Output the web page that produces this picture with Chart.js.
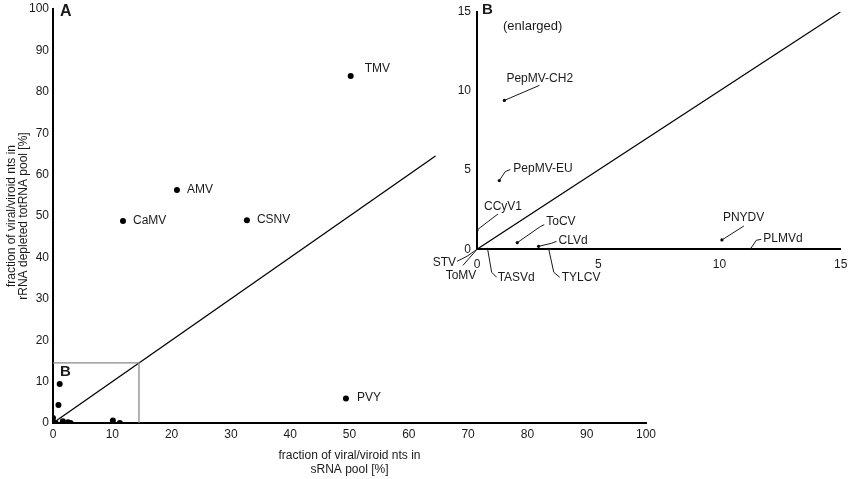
<!DOCTYPE html>
<html>
<head>
<meta charset="utf-8">
<script src="https://cdn.jsdelivr.net/npm/chart.js@4.4.1/dist/chart.umd.min.js"></script>
<style>
  html, body { margin: 0; padding: 0; background: #fff; }
  #wrap { position: relative; width: 851px; height: 479px; }
  #cA { position: absolute; left: 0; top: 0; }
  #cB { position: absolute; left: 430px; top: 0; }
</style>
</head>
<body>
<div id="wrap">
  <canvas id="cA" width="851" height="479"></canvas>
  <canvas id="cB" width="421" height="300"></canvas>
</div>
<script>
// ---------------- DATA ----------------
const virusNames = ['TMV','AMV','CaMV','CSNV','PVY','PepMV-CH2','PepMV-EU','CCyV1','ToCV','CLVd','PNYDV','PLMVd','TYLCV','TASVd','STV','ToMV'];
const srnaPct    = [50.2, 20.9, 11.8, 32.7, 49.4, 1.13, 0.92, 0.0, 1.66, 2.54, 10.1, 11.27, 2.96, 0.44, 0.0, 0.0];
const totrnaPct  = [83.8, 56.3, 48.8, 49.0, 5.9, 9.4, 4.34, 1.22, 0.42, 0.19, 0.59, 0.0, 0.0, 0.0, 0.0, 0.0];

const axisMaxA = 100, tickStepA = 10;
const axisMaxB = 15,  tickStepB = 5;
const diagEndA = 64.5;      // identity line extent in panel A
const zoomBoxMax = 14.5;    // extent of the enlarged region box
const diagEndB = 15;        // identity line extent in panel B

const xTitle = ['fraction of viral/viroid nts in', 'sRNA pool [%]'];
const yTitle = ['fraction of viral/viroid nts in', 'rRNA depleted totRNA pool [%]'];

// ---------------- STYLE ----------------
const FONT = "'Liberation Sans', Arial, sans-serif";
const INK = '#1a1a1a';

const points = virusNames.map((n, i) => ({ x: srnaPct[i], y: totrnaPct[i] }));

// label placement (pixel offsets from each point)
const labelsA = [
  { name: 'TMV',  dx: 14, dy: -7 },
  { name: 'AMV',  dx: 10, dy: 0 },
  { name: 'CaMV', dx: 10, dy: 0 },
  { name: 'CSNV', dx: 10, dy: 0 },
  { name: 'PVY',  dx: 11, dy: -1 }
];
const labelsB = [
  { name: 'PepMV-CH2', dx: 2,  dy: -22, leader: [[0,0],[35,-15]] },
  { name: 'PepMV-EU',  dx: 14, dy: -12, leader: [[0,0],[6,-9],[11,-11]] },
  { name: 'CCyV1',     dx: 7,  dy: -23, leader: [[0,0],[21,-16]] },
  { name: 'ToCV',      dx: 29, dy: -21, leader: [[0,0],[23,-16],[27,-18]] },
  { name: 'CLVd',      dx: 20, dy: -6,  leader: [[0,0],[13,-3],[18,-5]] },
  { name: 'PNYDV',     dx: 1,  dy: -22, leader: [[0,0],[22,-14]] },
  { name: 'PLMVd',     dx: 13, dy: -11, leader: [[0,0],[6,-9],[11,-10]] },
  { name: 'TYLCV',     dx: 13, dy: 28,  leader: [[0,0],[5,23],[11,28]] },
  { name: 'TASVd',     dx: 10, dy: 28,  leader: [[0,0],[4,23],[9,28]] },
  { name: 'STV',       dx: -21, dy: 13, align: 'right', leader: [[0,0],[-10,7],[-20,12]] },
  { name: 'ToMV',      dx: -16, dy: 26, align: 'center', leader: [[0,0],[-14,16]] }
];

function makeLabelPlugin(items, extra) {
  return {
    id: 'customLabels',
    afterDatasetsDraw(chart) {
      const { ctx, scales: { x, y } } = chart;
      ctx.save();
      ctx.fillStyle = INK;
      ctx.strokeStyle = INK;
      ctx.lineWidth = 1;
      ctx.font = '12px ' + FONT;
      ctx.textBaseline = 'middle';
      items.forEach(it => {
        const i = virusNames.indexOf(it.name);
        const px = x.getPixelForValue(srnaPct[i]);
        const py = y.getPixelForValue(totrnaPct[i]);
        if (it.leader) {
          ctx.beginPath();
          it.leader.forEach((p, k) => {
            if (k === 0) ctx.moveTo(px + p[0], py + p[1]);
            else ctx.lineTo(px + p[0], py + p[1]);
          });
          ctx.stroke();
        }
        ctx.textAlign = it.align || 'left';
        ctx.fillText(it.name, px + it.dx, py + it.dy);
      });
      if (extra) extra(chart, ctx, x, y);
      ctx.restore();
    }
  };
}

function axisCfg(max, step, titleLines, isX, fitSize, tickPad, titleFont, titlePad, topPad) {
  return {
    type: 'linear',
    min: 0, max: max,
    ticks: { stepSize: step, color: INK, font: { family: FONT, size: 12 }, padding: tickPad },
    grid: { display: false, drawTicks: false },
    border: { display: true, color: '#000', width: 2 },
    title: titleLines ? { display: true, text: titleLines, color: INK, font: titleFont, padding: titlePad } : { display: false },
    afterFit(scale) {
      if (isX) { scale.height = fitSize; scale.paddingRight = 0; scale.paddingLeft = 0; }
      else { scale.width = fitSize; scale.paddingTop = topPad; scale.paddingBottom = 0; }
    }
  };
}

Chart.defaults.animation = false;

// ---------------- PANEL A ----------------
new Chart(document.getElementById('cA'), {
  type: 'scatter',
  data: {
    datasets: [
      { data: [{x: 0, y: 0}, {x: diagEndA, y: diagEndA}], showLine: true, borderColor: '#000', borderWidth: 1.3, pointRadius: 0, order: 3 },
      { data: [{x: 0, y: zoomBoxMax}, {x: zoomBoxMax, y: zoomBoxMax}, {x: zoomBoxMax, y: 0}], showLine: true, borderColor: '#8a8a8a', borderWidth: 1.3, pointRadius: 0, order: 2 },
      { data: points, backgroundColor: '#000', borderColor: '#000', pointRadius: 3, pointBorderWidth: 0, order: 1 }
    ]
  },
  options: {
    responsive: false,
    animation: false,
    layout: { padding: { top: 9, right: 205, left: 0, bottom: 0 } },
    plugins: { legend: { display: false }, tooltip: { enabled: false } },
    scales: {
      x: axisCfg(axisMaxA, tickStepA, xTitle, true, 56, 4, { family: FONT, size: 12, lineHeight: 1.17 }, { top: 0, bottom: 2.5 }),
      y: axisCfg(axisMaxA, tickStepA, yTitle, false, 53, 4, { family: FONT, size: 12, lineHeight: 1.05 }, { top: 5, bottom: 0 }, 9)
    }
  },
  plugins: [makeLabelPlugin(labelsA, (chart, ctx, x, y) => {
    ctx.font = 'bold 16px ' + FONT;
    ctx.textAlign = 'left';
    ctx.fillStyle = INK;
    ctx.fillText('A', chart.chartArea.left + 7, chart.chartArea.top + 3);
    ctx.font = 'bold 15px ' + FONT;
    ctx.fillText('B', x.getPixelForValue(0) + 7, y.getPixelForValue(zoomBoxMax) + 9);
  })]
});

// ---------------- PANEL B ----------------
new Chart(document.getElementById('cB'), {
  type: 'scatter',
  data: {
    datasets: [
      { data: [{x: 0, y: 0}, {x: diagEndB, y: diagEndB}], showLine: true, borderColor: '#000', borderWidth: 1.3, pointRadius: 0, order: 2 },
      { data: points.filter(p => p.x <= axisMaxB && p.y <= axisMaxB), backgroundColor: '#000', borderColor: '#000', pointRadius: 1.6, pointBorderWidth: 0, order: 1 }
    ]
  },
  options: {
    responsive: false,
    animation: false,
    layout: { padding: { top: 11.7, right: 10.3, left: 0, bottom: 0 } },
    plugins: { legend: { display: false }, tooltip: { enabled: false } },
    scales: {
      x: axisCfg(axisMaxB, tickStepB, null, true, 50.7, 8),
      y: axisCfg(axisMaxB, tickStepB, null, false, 47, 6, null, null, 11.7)
    }
  },
  plugins: [makeLabelPlugin(labelsB, (chart, ctx) => {
    ctx.font = 'bold 15px ' + FONT;
    ctx.textAlign = 'left';
    ctx.fillStyle = INK;
    ctx.fillText('B', chart.chartArea.left + 5, chart.chartArea.top - 2);
    ctx.font = '13px ' + FONT;
    ctx.fillText('(enlarged)', chart.chartArea.left + 26, chart.chartArea.top + 15);
  })]
});
</script>
</body>
</html>
